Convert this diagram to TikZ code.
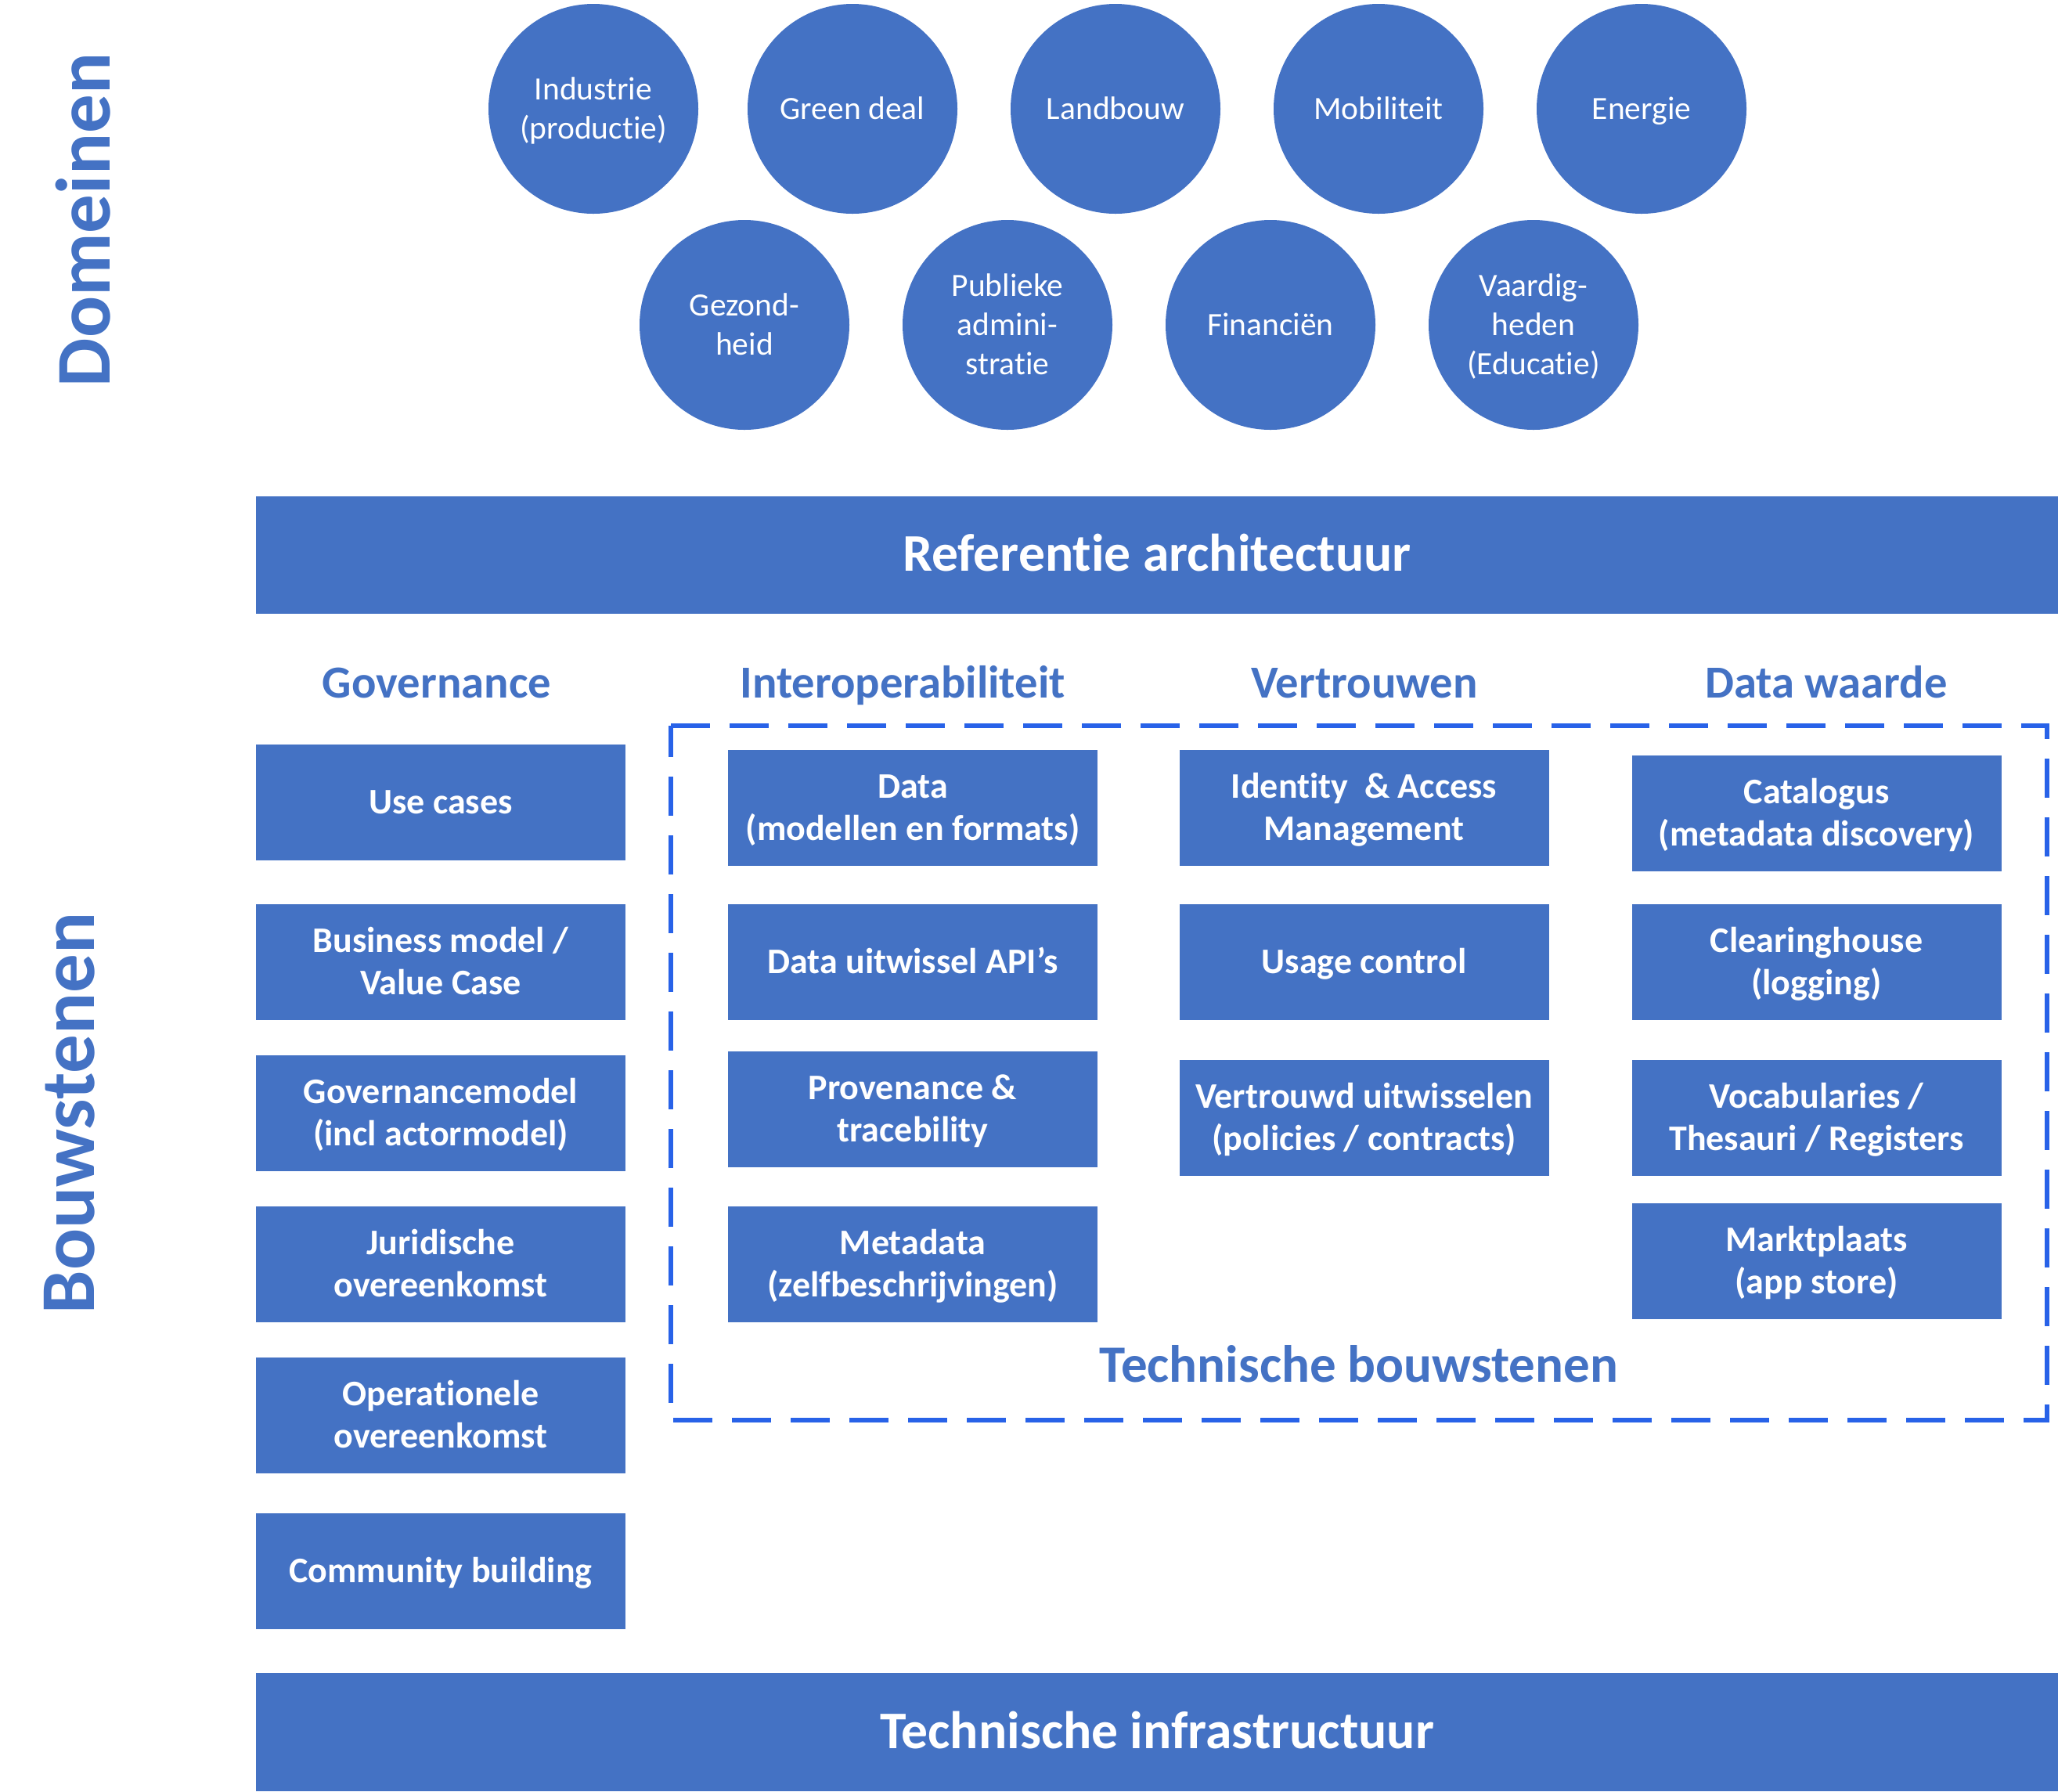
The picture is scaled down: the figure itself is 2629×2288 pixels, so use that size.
\documentclass[tikz,border=0pt]{standalone}
\usepackage{fontspec}
\setmainfont{Carlito}[Ligatures={NoCommon,NoDiscretionary,NoRare}]
\definecolor{officeblue}{RGB}{68,114,196}
\definecolor{dashblue}{RGB}{40,98,232}

% struts that centre a line of text on its optical middle
\newcommand\blokstrut{\vrule height 20pt depth 5.5pt width 0pt}
\newcommand\cirkelstrut{\vrule height 18.5pt depth 5.2pt width 0pt}
\newcommand\balkstrut{\vrule height 28pt depth 6.6pt width 0pt}
\newcommand\bA[1]{\blokstrut #1}
\newcommand\bB[2]{\blokstrut #1\\\blokstrut #2}
\newcommand\cA[1]{\cirkelstrut #1}
\newcommand\cB[2]{\cirkelstrut #1\\\cirkelstrut #2}
\newcommand\cC[3]{\cirkelstrut #1\\\cirkelstrut #2\\\cirkelstrut #3}

\begin{document}
\begin{tikzpicture}[x=0.5pt,y=-0.5pt,
  domeincirkel/.style={circle, fill=officeblue, minimum size=134pt, inner sep=0pt,
    text=white, align=center, font=\fontsize{20.75}{25}\selectfont},
  blok/.style={rectangle, fill=officeblue, minimum width=236pt, minimum height=74pt,
    inner sep=0pt, text=white, align=center, font=\bfseries\fontsize{23}{27}\selectfont},
  balk/.style={rectangle, fill=officeblue, minimum width=1151pt, minimum height=75pt,
    inner sep=0pt, text=white, font=\bfseries\fontsize{33.8}{40}\selectfont},
  kop/.style={text=officeblue, font=\bfseries\fontsize{29.3}{35}\selectfont,
    anchor=base, inner sep=0pt},
  zijlabel/.style={text=officeblue, font=\bfseries\fontsize{49.5}{58}\selectfont,
    rotate=90, inner sep=0pt},
  kader/.style={draw=dashblue, line width=2.6pt, dash pattern=on 25pt off 12.5pt,
    line join=miter},
]
\useasboundingbox (0,0) rectangle (2629,2288);

% side labels
\node[zijlabel] (domeinen) at (106,281) {Domeinen};
\node[zijlabel] (bouwstenen) at (89,1422) {Bouwstenen};

% domains, upper row
\node[domeincirkel] (industrie) at (758,139) {\cB{Industrie}{(productie)}};
\node[domeincirkel] (greendeal) at (1089,139) {\cA{Green deal}};
\node[domeincirkel] (landbouw) at (1425,139) {\cA{Landbouw}};
\node[domeincirkel] (mobiliteit) at (1761,139) {\cA{Mobiliteit}};
\node[domeincirkel] (energie) at (2097,139) {\cA{Energie}};
% domains, lower row
\node[domeincirkel] (gezondheid) at (951,415) {\cB{Gezond-}{heid}};
\node[domeincirkel] (publiek) at (1287,415) {\cC{Publieke}{admini-}{stratie}};
\node[domeincirkel] (financien) at (1623,415) {\cA{Financiën}};
\node[domeincirkel] (vaardigheden) at (1959,415) {\cC{Vaardig-}{heden}{(Educatie)}};

% reference architecture bar
\node[balk] (referentie) at (1478,708.5) {\balkstrut Referentie architectuur};

% column headings
\node[kop] (hgov) at (558,891) {Governance};
\node[kop] (hinterop) at (1153,891) {Interoperabiliteit};
\node[kop] (hvertr) at (1743,891) {Vertrouwen};
\node[kop] (hwaarde) at (2333,891) {Data waarde};

% governance blocks
\node[blok] (usecases) at (563,1024.5) {\bA{Use cases}};
\node[blok] (business) at (563,1229) {\bB{Business model /}{Value Case}};
\node[blok] (govmodel) at (563,1421.5) {\bB{Governancemodel}{(incl actormodel)}};
\node[blok] (juridisch) at (563,1614.5) {\bB{Juridische}{overeenkomst}};
\node[blok] (operationeel) at (563,1807.5) {\bB{Operationele}{overeenkomst}};
\node[blok] (community) at (563,2006.5) {\bA{Community building}};

% technical building blocks frame
\coordinate (ftl) at (857,927);
\coordinate (ftr) at (2615,927);
\coordinate (fbr) at (2615,1814);
\coordinate (fbl) at (857,1814);
\draw[kader] (ftl) -- (ftr) -- (fbr) -- (fbl) -- cycle;
\node[kop] (techbouw) at (1736,1765) {\fontsize{33.5}{40}\selectfont Technische bouwstenen};

% interoperability
\node[blok] (data) at (1166,1032) {\bB{Data}{(modellen en formats)}};
\node[blok] (api) at (1166,1229) {\bA{Data uitwissel API’s}};
\node[blok] (provenance) at (1166,1417) {\bB{Provenance \&}{tracebility}};
\node[blok] (metadata) at (1166,1614.5) {\bB{Metadata}{(zelfbeschrijvingen)}};

% trust
\node[blok] (iam) at (1742.5,1032) {\bB{Identity\ \ \& Access}{Management}};
\node[blok] (usage) at (1742.5,1229) {\bA{Usage control}};
\node[blok] (vertrouwd) at (1742.5,1428) {\bB{Vertrouwd uitwisselen}{(policies / contracts)}};

% data value
\node[blok] (catalogus) at (2320.5,1039) {\bB{Catalogus}{(metadata discovery)}};
\node[blok] (clearing) at (2320.5,1229) {\bB{Clearinghouse}{(logging)}};
\node[blok] (vocab) at (2320.5,1428) {\bB{Vocabularies /}{Thesauri / Registers}};
\node[blok] (markt) at (2320.5,1611) {\bB{Marktplaats}{(app store)}};

% technical infrastructure bar
\node[balk, minimum height=75.5pt] (infra) at (1478,2212.5) {\balkstrut Technische infrastructuur};
\end{tikzpicture}
\end{document}
